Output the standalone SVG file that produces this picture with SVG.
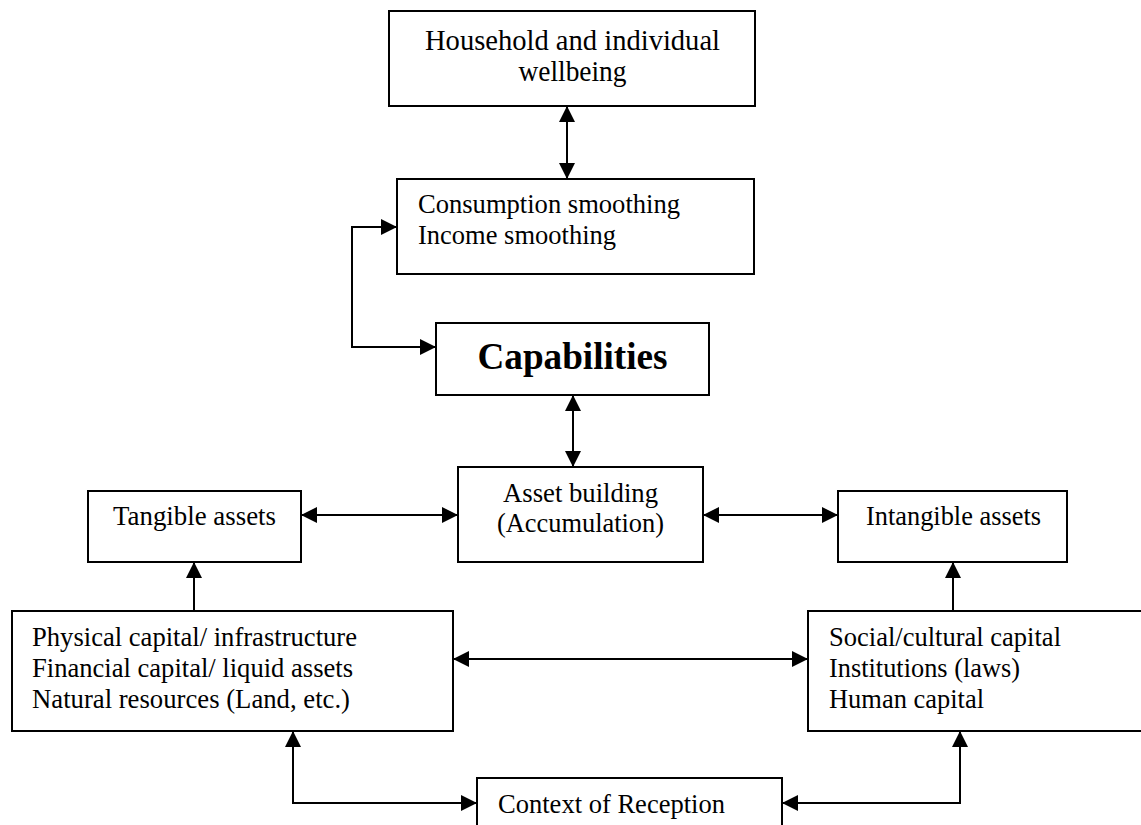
<svg xmlns="http://www.w3.org/2000/svg" width="1141" height="825" viewBox="0 0 1141 825">
<style>
.box{fill:#fff;stroke:#000;stroke-width:2}
.t{font-family:"Liberation Serif","Times New Roman",serif;font-size:28px;fill:#000}
.c{text-anchor:middle}
.con{fill:none;stroke:#000;stroke-width:2}
</style>
<defs>
<marker id="ah" markerUnits="userSpaceOnUse" markerWidth="18" markerHeight="18" viewBox="0 0 18 18" refX="16" refY="9" orient="auto-start-reverse">
<path d="M0,1 L16,9 L0,17 Z" fill="#000"/>
</marker>
</defs>
<rect width="1141" height="825" fill="#fff"/>
<g id="connectors">
<path class="con" d="M567,106 V179" marker-start="url(#ah)" marker-end="url(#ah)"/>
<path class="con" d="M397,227 H352 V347 H436" marker-start="url(#ah)" marker-end="url(#ah)"/>
<path class="con" d="M573,395 V467" marker-start="url(#ah)" marker-end="url(#ah)"/>
<path class="con" d="M301,515 H458" marker-start="url(#ah)" marker-end="url(#ah)"/>
<path class="con" d="M703,515 H838" marker-start="url(#ah)" marker-end="url(#ah)"/>
<path class="con" d="M194,611 V562" marker-end="url(#ah)"/>
<path class="con" d="M953,611 V562" marker-end="url(#ah)"/>
<path class="con" d="M453,659 H808" marker-start="url(#ah)" marker-end="url(#ah)"/>
<path class="con" d="M293,731 V803 H477" marker-start="url(#ah)" marker-end="url(#ah)"/>
<path class="con" d="M960,731 V803 H782" marker-start="url(#ah)" marker-end="url(#ah)"/>
</g>
<g id="wellbeing">
<rect class="box" x="389" y="11" width="366" height="95"/>
<text class="t c" x="572.5" y="50" style="font-size:29.5px" textLength="295" lengthAdjust="spacingAndGlyphs">Household and individual</text>
<text class="t c" x="572.5" y="81" style="font-size:29.5px" textLength="108" lengthAdjust="spacingAndGlyphs">wellbeing</text>
</g>
<g id="smoothing">
<rect class="box" x="397" y="179" width="357" height="95"/>
<text class="t" x="418" y="213" textLength="262" lengthAdjust="spacingAndGlyphs">Consumption smoothing</text>
<text class="t" x="418" y="244" textLength="198" lengthAdjust="spacingAndGlyphs">Income smoothing</text>
</g>
<g id="capabilities">
<rect class="box" x="436" y="323" width="273" height="72"/>
<text class="t c" x="572.5" y="369" style="font-size:38px;font-weight:bold" textLength="190" lengthAdjust="spacingAndGlyphs">Capabilities</text>
</g>
<g id="asset-building">
<rect class="box" x="458" y="467" width="245" height="95"/>
<text class="t c" x="580.5" y="502" textLength="155" lengthAdjust="spacingAndGlyphs">Asset building</text>
<text class="t c" x="580.5" y="532" textLength="167" lengthAdjust="spacingAndGlyphs">(Accumulation)</text>
</g>
<g id="tangible">
<rect class="box" x="88" y="491" width="213" height="71"/>
<text class="t c" x="194.5" y="525" textLength="163" lengthAdjust="spacingAndGlyphs">Tangible assets</text>
</g>
<g id="intangible">
<rect class="box" x="838" y="491" width="229" height="71"/>
<text class="t c" x="953.5" y="525" textLength="175" lengthAdjust="spacingAndGlyphs">Intangible assets</text>
</g>
<g id="physical">
<rect class="box" x="12" y="611" width="441" height="120"/>
<text class="t" x="32" y="646" textLength="325" lengthAdjust="spacingAndGlyphs">Physical capital/ infrastructure</text>
<text class="t" x="32" y="677" textLength="321" lengthAdjust="spacingAndGlyphs">Financial capital/ liquid assets</text>
<text class="t" x="32" y="708" textLength="318" lengthAdjust="spacingAndGlyphs">Natural resources (Land, etc.)</text>
</g>
<g id="social">
<rect class="box" x="808" y="611" width="345" height="120"/>
<text class="t" x="829" y="646" textLength="232" lengthAdjust="spacingAndGlyphs">Social/cultural capital</text>
<text class="t" x="829" y="677" textLength="191" lengthAdjust="spacingAndGlyphs">Institutions (laws)</text>
<text class="t" x="829" y="708" textLength="155" lengthAdjust="spacingAndGlyphs">Human capital</text>
</g>
<g id="context">
<rect class="box" x="477" y="778" width="305" height="60"/>
<text class="t" x="498" y="813" textLength="227" lengthAdjust="spacingAndGlyphs">Context of Reception</text>
</g>
</svg>
